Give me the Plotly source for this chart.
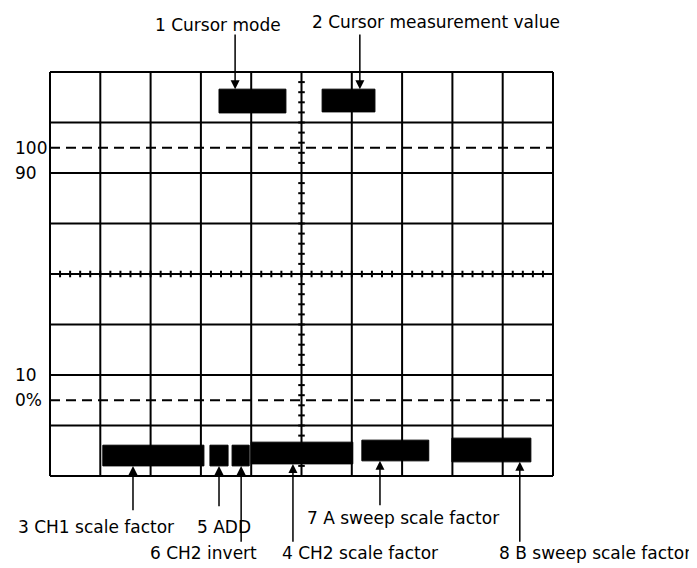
import numpy as np
import plotly.graph_objects as go

# ---------------- data (graticule in screen divisions) ----------------
N_COLS = 10
N_ROWS = 8
minor_per_div = 5

# reference levels (divisions from centre) and their labels
level_labels = ["100", "90", "10", "0%"]
level_y = [2.5, 2.0, -2.0, -2.5]
dashed_levels = [2.5, -2.5]

# readout blocks on the screen (division units)
readout_names = ["Cursor mode", "Cursor value", "CH1", "ADD", "CH2 inv", "CH2", "A sweep", "B sweep"]
readout_x0 = [3.36, 5.41, 1.05, 3.18, 3.62, 4.00, 6.20, 7.99]
readout_x1 = [4.69, 6.46, 3.06, 3.54, 3.96, 6.02, 7.53, 9.56]
readout_y0 = [3.19, 3.21, -3.80, -3.80, -3.80, -3.76, -3.70, -3.72]
readout_y1 = [3.66, 3.66, -3.39, -3.39, -3.39, -3.33, -3.29, -3.25]

# call-outs
callout_text = ["1 Cursor mode", "2 Cursor measurement value", "3 CH1 scale factor",
                "5 ADD", "6 CH2 invert", "4 CH2 scale factor",
                "7 A sweep scale factor", "8 B sweep scale factor"]
callout_x = [2.05, 5.17, -0.68, 2.88, 1.95, 4.57, 5.07, 8.89]
callout_y = [4.93, 4.99, -5.01, -5.01, -5.52, -5.52, -4.83, -5.52]
arrow_x = [3.68, 6.16, 1.65, 3.36, 3.80, 4.83, 6.56, 9.34]
arrow_tail_y = [4.77, 4.77, -4.71, -4.63, -5.33, -5.33, -4.61, -5.33]
arrow_head_y = [3.66, 3.66, -3.80, -3.80, -3.80, -3.76, -3.70, -3.72]

# ---------------- figure ----------------
PAGE_OFFSET = 8  # default page margin around the figure
W, H = 697 - PAGE_OFFSET, 568 - PAGE_OFFSET
DIV_W, DIV_H = 50.3, 50.5
ORIGIN_X, ORIGIN_Y = 50 - PAGE_OFFSET, 274 - PAGE_OFFSET  # pixel of (0, centre)
x_range = [-ORIGIN_X / DIV_W, (W - ORIGIN_X) / DIV_W]
y_range = [-(H - ORIGIN_Y) / DIV_H, ORIGIN_Y / DIV_H]

half = N_ROWS / 2
fig = go.Figure()

# graticule lines
gx, gy = [], []
for c in range(N_COLS + 1):
    gx += [c, c, None]
    gy += [-half, half, None]
for r in range(N_ROWS + 1):
    gx += [0, N_COLS, None]
    gy += [r - half, r - half, None]
fig.add_trace(go.Scatter(x=gx, y=gy, mode="lines", line=dict(color="black", width=2),
                         hoverinfo="skip", showlegend=False))

# minor ticks on the centre lines
tick_len = 0.065
tx, ty = [], []
for k in range(N_COLS * minor_per_div + 1):
    xv = k / minor_per_div
    tx += [xv, xv, None]
    ty += [-tick_len * DIV_W / DIV_H, tick_len * DIV_W / DIV_H, None]
for k in range(N_ROWS * minor_per_div + 1):
    yv = k / minor_per_div - half
    tx += [N_COLS / 2 - tick_len, N_COLS / 2 + tick_len, None]
    ty += [yv, yv, None]
fig.add_trace(go.Scatter(x=tx, y=ty, mode="lines", line=dict(color="black", width=2),
                         hoverinfo="skip", showlegend=False))

# dashed 0% / 100% lines
for lv in dashed_levels:
    fig.add_trace(go.Scatter(x=[0, N_COLS], y=[lv, lv], mode="lines",
                             line=dict(color="black", width=2, dash="10px,6px"),
                             hoverinfo="skip", showlegend=False))

# readout blocks
for x0, x1, y0, y1 in zip(readout_x0, readout_x1, readout_y0, readout_y1):
    fig.add_shape(type="rect", xref="x", yref="y", x0=x0, x1=x1, y0=y0, y1=y1,
                  fillcolor="black", line=dict(color="black", width=1))

FONT = dict(family="DejaVu Sans", size=17, color="black")

# level labels
for t, yv in zip(level_labels, level_y):
    fig.add_annotation(x=-0.74, y=yv, text=t, showarrow=False, xanchor="left",
                       yanchor="middle", font=FONT, xref="x", yref="y")

# arrows
for ax_, ty_, hy in zip(arrow_x, arrow_tail_y, arrow_head_y):
    fig.add_annotation(x=ax_, y=hy, ax=ax_, ay=ty_, xref="x", yref="y",
                       axref="x", ayref="y", text="", showarrow=True,
                       arrowhead=2, arrowsize=1.2, arrowwidth=1.5,
                       arrowcolor="black", standoff=0, startstandoff=0)

# call-out texts
for t, xv, yv in zip(callout_text, callout_x, callout_y):
    fig.add_annotation(x=xv, y=yv, text=t, showarrow=False, xanchor="left",
                       yanchor="middle", font=FONT, xref="x", yref="y")

fig.update_layout(
    width=W, height=H, margin=dict(l=0, r=0, t=0, b=0),
    paper_bgcolor="white", plot_bgcolor="white",
    xaxis=dict(range=x_range, visible=False, fixedrange=True),
    yaxis=dict(range=y_range, visible=False, fixedrange=True),
    showlegend=False,
)

fig.write_html("out.html")
